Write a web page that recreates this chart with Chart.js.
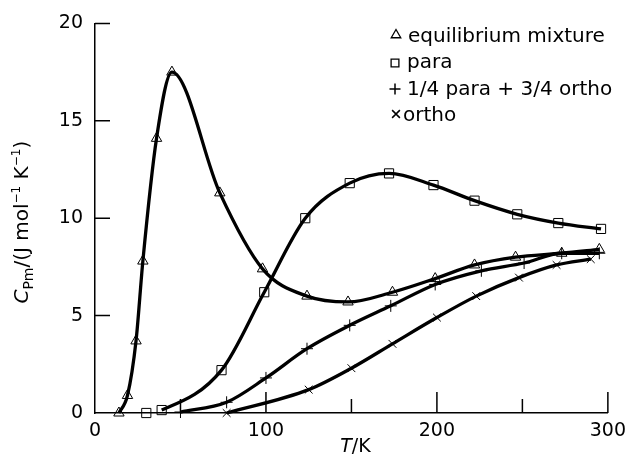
<!DOCTYPE html>
<html>
<head>
<meta charset="utf-8">
<script src="https://cdn.jsdelivr.net/npm/chart.js@4.4.1/dist/chart.umd.min.js"></script>
<style>
html, body { margin: 0; padding: 0; background: #fff; }
#wrap { width: 633px; height: 461px; }
</style>
</head>
<body>
<div id="wrap"><canvas id="chart"></canvas></div>
<script>
// Values (T in K, C in J mol-1 K-1)
const eqT = [14, 19, 24, 28, 36, 45, 73, 98, 124, 148, 174, 199, 222, 246, 273, 295];
const eqC = [0, 0.9, 3.7, 7.8, 14.1, 17.5, 11.3, 7.4, 6.0, 5.7, 6.2, 6.9, 7.6, 8.0, 8.2, 8.4];
const paraT = [30, 39, 74, 99, 123, 149, 172, 198, 222, 247, 271, 296];
const paraC = [0, 0.15, 2.2, 6.2, 10.0, 11.8, 12.3, 11.7, 10.9, 10.2, 9.75, 9.45];
const mixT = [50, 77, 100, 124, 149, 173, 199, 226, 251, 273, 295];
const mixC = [0.05, 0.55, 1.8, 3.3, 4.5, 5.5, 6.6, 7.3, 7.7, 8.2, 8.2];
const orthoT = [77, 125, 150, 174, 200, 223, 248, 270, 290];
const orthoC = [0, 1.2, 2.3, 3.55, 4.9, 6.0, 6.95, 7.6, 7.9];

const legendLabels = ['equilibrium mixture', 'para', '1/4 para + 3/4 ortho', 'ortho'];
const xMajorTicks = [100, 200, 300];
const xMinorTicks = [50, 150, 250];
const yTicks = [5, 10, 15, 20];

const FONT = "'DejaVu Sans', sans-serif";

function pts(xs, ys) {
    return xs.map((t, i) => ({ x: t, y: ys[i] }));
}

function series(label, xs, ys, style, radius, skipFirst) {
    return {
        label: label,
        data: pts(xs, ys),
        borderColor: '#000',
        borderWidth: 3.3,
        cubicInterpolationMode: 'monotone',
        pointStyle: style,
        pointRadius: radius,
        pointBorderWidth: 1,
        pointBorderColor: '#000',
        pointBackgroundColor: 'rgba(0,0,0,0)',
        fill: false,
        clip: false,
        segment: {
            borderColor: ctx => (skipFirst && ctx.p0DataIndex === 0) ? 'rgba(0,0,0,0)' : '#000'
        }
    };
}

const datasets = [
    series(legendLabels[0], eqT, eqC, 'triangle', 6, false),
    series(legendLabels[1], paraT, paraC, 'rect', 6.5, true),
    series(legendLabels[2], mixT, mixC, 'cross', 6, false),
    series(legendLabels[3], orthoT, orthoC, 'crossRot', 5.5, false)
];

// inward ticks, axis titles and legend
const decorations = {
    id: 'decorations',
    afterDraw(chart) {
        const { ctx, chartArea: a, scales: { x, y } } = chart;
        ctx.save();
        ctx.strokeStyle = '#000';
        ctx.lineWidth = 1.5;
        ctx.beginPath();
        xMajorTicks.forEach(v => {
            const px = x.getPixelForValue(v);
            ctx.moveTo(px, a.bottom); ctx.lineTo(px, a.bottom - 21);
        });
        xMinorTicks.forEach(v => {
            const px = x.getPixelForValue(v);
            ctx.moveTo(px, a.bottom); ctx.lineTo(px, a.bottom - 14);
        });
        yTicks.forEach(v => {
            const py = y.getPixelForValue(v);
            ctx.moveTo(a.left, py); ctx.lineTo(a.left + 15, py);
        });
        ctx.stroke();

        ctx.fillStyle = '#000';
        // x title: T/K
        ctx.textBaseline = 'alphabetic';
        ctx.font = 'italic 19px ' + FONT;
        const tW = ctx.measureText('T').width;
        ctx.font = '19px ' + FONT;
        const kW = ctx.measureText('/K').width;
        let sx = (a.left + a.right) / 2 + 4 - (tW + kW) / 2;
        ctx.font = 'italic 19px ' + FONT;
        ctx.fillText('T', sx, 452);
        ctx.font = '19px ' + FONT;
        ctx.fillText('/K', sx + tW, 452);

        // y title: C_Pm/(J mol^-1 K^-1)
        const parts = [
            ['C', 'italic 20px', 0],
            ['Pm', '14px', 5],
            ['/(J mol', '20px', 0],
            ['\u22121', '12px', -8],
            [' K', '20px', 0],
            ['\u22121', '12px', -8],
            [')', '20px', 0]
        ];
        let total = 0;
        parts.forEach(p => { ctx.font = p[1] + ' ' + FONT; p.push(ctx.measureText(p[0]).width); total += p[3]; });
        ctx.translate(28, (a.top + a.bottom) / 2 + 4);
        ctx.rotate(-Math.PI / 2);
        let pos = -total / 2;
        parts.forEach(p => {
            ctx.font = p[1] + ' ' + FONT;
            ctx.fillText(p[0], pos, p[2]);
            pos += p[3];
        });
        ctx.restore();

        // legend
        ctx.save();
        ctx.textBaseline = 'alphabetic';
        ctx.font = '20px ' + FONT;
        const rows = [42, 68, 95, 121];
        const marks = [[396, 35], [395, 63], [395, 89], [396, 114]];
        const textX = [408, 407, 407, 403];
        chart.data.datasets.forEach((ds, i) => {
            ctx.strokeStyle = '#000';
            ctx.fillStyle = 'rgba(0,0,0,0)';
            ctx.lineWidth = i >= 2 ? 1.5 : 1.3;
            Chart.helpers.drawPoint(ctx, {
                pointStyle: ds.pointStyle,
                radius: 5.5,
                rotation: 0,
                borderWidth: ctx.lineWidth
            }, marks[i][0], marks[i][1]);
            ctx.fillStyle = '#000';
            ctx.fillText(legendLabels[i], textX[i], rows[i]);
        });
        ctx.restore();
    }
};

const ctx = document.getElementById('chart').getContext('2d');
const chart = new Chart(ctx, {
    type: 'line',
    data: { datasets: datasets },
    options: {
        responsive: true,
        maintainAspectRatio: false,
        animation: false,
        layout: { padding: { top: 19, right: 21, left: 0, bottom: 0 } },
        plugins: { legend: { display: false }, tooltip: { enabled: false } },
        scales: {
            x: {
                type: 'linear',
                min: 0,
                max: 300,
                ticks: { stepSize: 100, color: '#000', font: { family: FONT, size: 19 }, padding: 7, maxRotation: 0 },
                grid: { display: false, drawTicks: false },
                border: { display: true, color: '#000', width: 1.5 },
                afterFit: s => { s.height = 48; }
            },
            y: {
                type: 'linear',
                min: 0,
                max: 20,
                ticks: { stepSize: 5, color: '#000', font: { family: FONT, size: 19 }, padding: 12 },
                grid: { display: false, drawTicks: false },
                border: { display: true, color: '#000', width: 1.5 },
                afterFit: s => { s.width = 95; }
            }
        }
    },
    plugins: [decorations]
});
</script>
</body>
</html>
